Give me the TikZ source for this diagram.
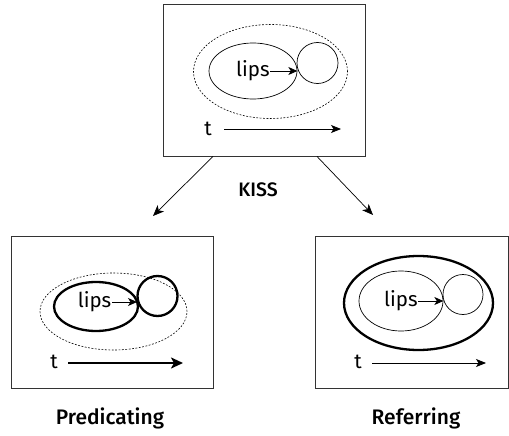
\documentclass[tikz,border=0pt]{standalone}
\usepackage{fontspec}
\setmainfont{Fira Sans}
\newfontfamily\labelfont{Fira Sans Medium}
\usetikzlibrary{shapes.geometric,arrows.meta,calc}

\tikzset{
  frame/.style={draw=black!80, line width=0.9pt, minimum width=202pt, minimum height=152pt, inner sep=0pt},
  ell/.style={ellipse, draw, inner sep=0pt},
  thinline/.style={line width=0.7pt},
  thickline/.style={line width=2.3pt},
  dotted ell/.style={ellipse, draw, inner sep=0pt, line width=0.6pt, dash pattern=on 1.8pt off 1.6pt},
  word/.style={inner sep=0.5pt, font=\fontsize{20.5}{20.5}\selectfont},
  caption/.style={inner sep=0pt, font=\labelfont\fontsize{21}{21}\selectfont},
  thinarrow/.style={line width=0.8pt, -{Stealth[length=10pt, width=8pt, inset=2.5pt]}},
  thickarrow/.style={line width=2.3pt, -{Stealth[length=12pt, width=11pt, inset=3pt]}},
  smallarrow/.style={line width=0.8pt, -{Stealth[length=9pt, width=8pt, inset=2.5pt]}},
  branch/.style={line width=0.7pt, -{Stealth[length=11pt, width=9pt, inset=3pt]}},
}

\begin{document}
\begin{tikzpicture}[x=1pt, y=-1pt]
  \useasboundingbox (0,0) rectangle (509,436);

  % ---------- upper frame: the event ----------
  \node[frame] (top) at (264,80) {};
  \node[dotted ell, minimum width=154pt, minimum height=94pt] (topOut) at (270.5,71.5) {};
  \node[ell, thinline, minimum width=88pt, minimum height=56pt] (topLips) at (253,71) {};
  \node[circle, draw, thinline, inner sep=0pt, minimum size=41pt] (topObj) at (317.5,63) {};
  \node[word, anchor=east] (topWord) at ($(topLips.east)+(-27,0)$) {lips};
  \draw[smallarrow] (topWord.east) -- (topLips.east);
  \node[word] (topT) at (208,129) {t};
  \coordinate (topTEnd) at (341,129);
  \draw[thinarrow] ($(topT.east)+(12,0)$) -- (topTEnd);

  % ---------- branches ----------
  \coordinate (tipL) at (153,216);
  \coordinate (tipR) at (373,215);
  \draw[branch] ($(top.south)+(-51,0)$) -- (tipL);
  \draw[branch] ($(top.south)+(53,0)$) -- (tipR);
  \node[inner sep=0pt, font=\labelfont\fontsize{19.5}{19.5}\selectfont] (kiss) at (258,190) {KISS};

  % ---------- lower left frame: predicating ----------
  \node[frame] (pred) at (112,312) {};
  \node[dotted ell, minimum width=147pt, minimum height=77pt] (predOut) at (113.5,311.5) {};
  \node[ell, thickline, minimum width=84pt, minimum height=49pt] (predLips) at (96,306.5) {};
  \node[circle, draw, thickline, inner sep=0pt, minimum size=40pt] (predObj) at (157.5,296) {};
  \coordinate (predTouch) at (137,302);
  \node[word, anchor=east] (predWord) at ($(predTouch)+(-25,0)$) {lips};
  \draw[smallarrow] (predWord.east) -- (predTouch);
  \node[word] (predT) at (54,362) {t};
  \coordinate (predTEnd) at (183,363);
  \draw[thickarrow] ($(predT.east)+(10,1)$) -- (predTEnd);
  \node[caption] (predCap) at (110,418) {Predicating};

  % ---------- lower right frame: referring ----------
  \node[frame, minimum width=193pt] (ref) at (411.5,312) {};
  \node[ell, thickline, minimum width=149pt, minimum height=94pt] (refOut) at (418.5,303) {};
  \node[ell, thinline, minimum width=84pt, minimum height=60pt] (refLips) at (401,301) {};
  \node[circle, draw, thinline, inner sep=0pt, minimum size=40pt] (refObj) at (463,294.5) {};
  \node[word, anchor=east] (refWord) at ($(refLips.east)+(-25,0)$) {lips};
  \draw[smallarrow] (refWord.east) -- (refLips.east);
  \node[word] (refT) at (358,362) {t};
  \coordinate (refTEnd) at (486,363);
  \draw[thinarrow] ($(refT.east)+(10,1)$) -- (refTEnd);
  \node[caption] (refCap) at (416,418) {Referring};
\end{tikzpicture}
\end{document}
